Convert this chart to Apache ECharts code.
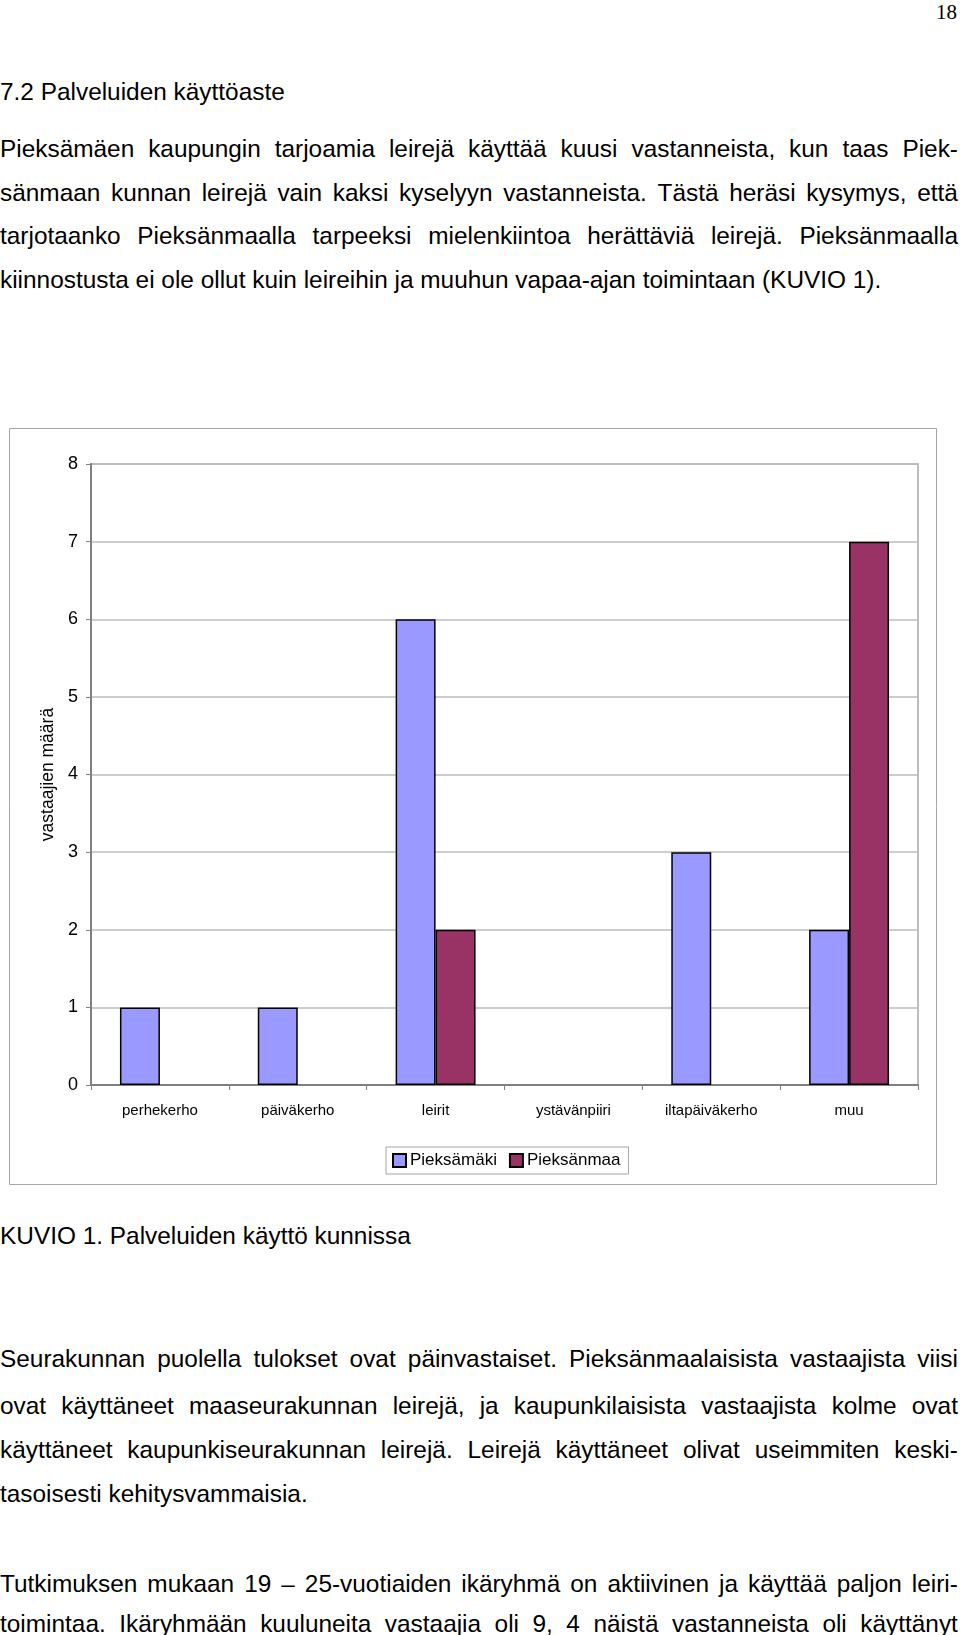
<!DOCTYPE html>
<html>
<head>
<meta charset="utf-8">
<script src="https://cdn.jsdelivr.net/npm/echarts@6/dist/echarts.min.js"></script>
<style>
  html, body { margin: 0; padding: 0; background: #fff; }
  .page { position: relative; width: 960px; height: 1635px; overflow: hidden;
          font-family: "Liberation Sans", Arial, Helvetica, sans-serif; color: #000; }
  .ln { position: absolute; left: 0; width: 958px; height: 30px; line-height: 30px;
        font-size: 24.4px; white-space: nowrap; }
  .j { display: flex; justify-content: space-between; }
  .pno { position: absolute; right: 3px; top: 0; font-family: "Liberation Serif", "Times New Roman", serif;
         font-size: 21px; line-height: 24px; }
  #chart { position: absolute; left: 0; top: 420px; width: 960px; height: 775px; }
</style>
</head>
<body>
<div class="page">
  <div class="pno">18</div>
  <div class="ln" style="top:77px">7.2 Palveluiden käyttöaste</div>

  <div class="ln j" style="top:134px">Pieksämäen kaupungin tarjoamia leirejä käyttää kuusi vastanneista, kun taas Piek-</div>
  <div class="ln j" style="top:178px">sänmaan kunnan leirejä vain kaksi kyselyyn vastanneista. Tästä heräsi kysymys, että</div>
  <div class="ln j" style="top:221px">tarjotaanko Pieksänmaalla tarpeeksi mielenkiintoa herättäviä leirejä. Pieksänmaalla</div>
  <div class="ln" style="top:265px">kiinnostusta ei ole ollut kuin leireihin ja muuhun vapaa-ajan toimintaan (KUVIO 1).</div>

  <div id="chart"></div>

  <div class="ln" style="top:1221px">KUVIO 1. Palveluiden käyttö kunnissa</div>

  <div class="ln j" style="top:1344px">Seurakunnan puolella tulokset ovat päinvastaiset. Pieksänmaalaisista vastaajista viisi</div>
  <div class="ln j" style="top:1391px">ovat käyttäneet maaseurakunnan leirejä, ja kaupunkilaisista vastaajista kolme ovat</div>
  <div class="ln j" style="top:1435px">käyttäneet kaupunkiseurakunnan leirejä. Leirejä käyttäneet olivat useimmiten keski-</div>
  <div class="ln" style="top:1479px">tasoisesti kehitysvammaisia.</div>

  <div class="ln j" style="top:1569px">Tutkimuksen mukaan 19 – 25-vuotiaiden ikäryhmä on aktiivinen ja käyttää paljon leiri-</div>
  <div class="ln j" style="top:1609px">toimintaa. Ikäryhmään kuuluneita vastaajia oli 9, 4 näistä vastanneista oli käyttänyt</div>
</div>

<script>
// justified lines: one span per word, spread with flex
document.querySelectorAll('.j').forEach(el => {
  let words = el.textContent.trim().split(/\s+/)
  el.innerHTML = words.map(w => '<span>' + w + '</span>').join('')
})

const categories = ['perhekerho', 'päiväkerho', 'leirit', 'ystävänpiiri', 'iltapäiväkerho', 'muu']
const pieksamaki = [1, 1, 6, 0, 3, 2]
const pieksanmaa = [0, 0, 2, 0, 0, 7]
const seriesNames = ['Pieksämäki', 'Pieksänmaa']
const seriesColors = ['#9999ff', '#993366']
const yName = 'vastaajien määrä'
const yMin = 0
const yMax = 8
const yStep = 1

const FONT = '"Liberation Sans", Arial, Helvetica, sans-serif'

// zero values are not drawn in the original
const asBars = arr => arr.map(v => (v === 0 ? null : v))

let chart = echarts.init(document.getElementById('chart'), null, { renderer: 'canvas' })

chart.setOption({
  animation: false,
  backgroundColor: 'transparent',
  textStyle: { fontFamily: FONT, color: '#000' },
  graphic: [
    {
      type: 'rect',
      shape: { x: 9.5, y: 8.5, width: 927, height: 756 },
      style: { fill: 'none', stroke: '#a6a6a6', lineWidth: 1 },
      silent: true,
    },
  ],
  grid: {
    left: 91,
    right: 42,
    top: 44,
    bottom: 110,
    show: true,
    borderColor: '#a8a8a8',
    borderWidth: 1.5,
  },
  legend: {
    left: 386,
    top: 727,
    data: seriesNames,
    icon: 'rect',
    itemWidth: 13,
    itemHeight: 13,
    itemGap: 12,
    padding: [5, 8, 5, 6],
    borderColor: '#a6a6a6',
    borderWidth: 1,
    backgroundColor: '#fff',
    textStyle: { fontSize: 17, color: '#000', fontFamily: FONT, padding: [0, 0, 0, -1] },
  },
  xAxis: {
    type: 'category',
    data: categories,
    axisLine: { lineStyle: { color: '#808080', width: 2 } },
    axisTick: { show: true, length: 5, lineStyle: { color: '#808080', width: 1 } },
    axisLabel: { fontSize: 15, color: '#000', margin: 18, fontFamily: FONT },
    splitLine: { show: false },
  },
  yAxis: {
    type: 'value',
    min: yMin,
    max: yMax,
    interval: yStep,
    name: yName,
    nameLocation: 'middle',
    nameRotate: 90,
    nameGap: 34,
    nameTextStyle: { fontSize: 17.5, color: '#000', fontFamily: FONT },
    axisLine: { show: true, lineStyle: { color: '#808080', width: 2 } },
    axisTick: { show: true, length: 5, lineStyle: { color: '#808080', width: 1 } },
    axisLabel: { fontSize: 18, color: '#000', margin: 13, fontFamily: FONT },
    splitLine: { show: true, lineStyle: { color: '#bdbdbd', width: 1.5 } },
  },
  series: [
    {
      name: seriesNames[0],
      type: 'bar',
      data: asBars(pieksamaki),
      barGap: '0%',
      barCategoryGap: '42%',
      itemStyle: { color: seriesColors[0], borderColor: '#000', borderWidth: 1.5 },
    },
    {
      name: seriesNames[1],
      type: 'bar',
      data: asBars(pieksanmaa),
      barGap: '0%',
      barCategoryGap: '42%',
      itemStyle: { color: seriesColors[1], borderColor: '#000', borderWidth: 1.5 },
    },
  ],
})
</script>
</body>
</html>
